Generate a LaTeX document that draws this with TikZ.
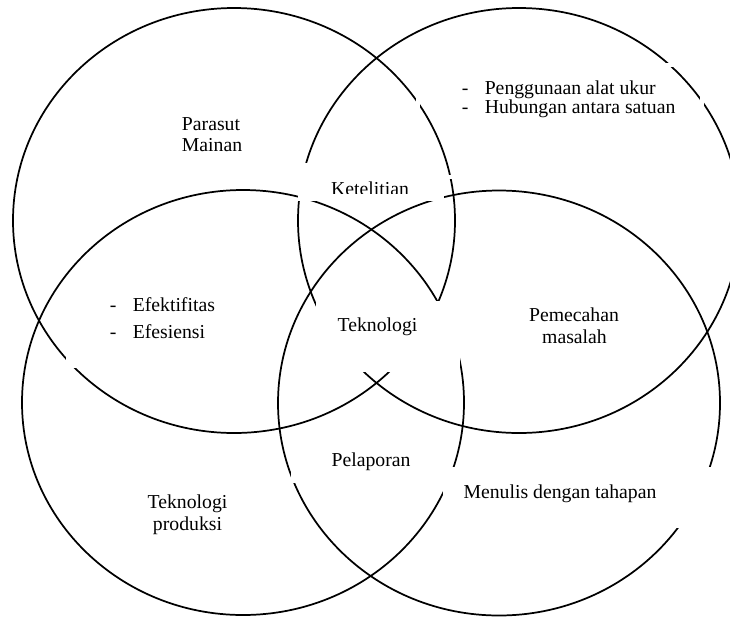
\documentclass[tikz,border=0pt]{standalone}
\usepackage{fontspec}
\setmainfont{Liberation Serif}
\begin{document}
\begin{tikzpicture}[x=0.75pt,y=-0.75pt,
  circ/.style={draw=black,line width=1.3pt},
  maskbox/.style={fill=white,draw=none},
  lbl/.style={inner sep=0pt,anchor=base,font=\fontsize{14.8}{17}\selectfont},
  itm/.style={inner sep=0pt,anchor=base west,font=\fontsize{14.8}{17}\selectfont}]
\useasboundingbox (0,0) rectangle (730,618);
\fill[white] (0,0) rectangle (730,618);
% four circles
\draw[circ] (234,220.5) ellipse [x radius=165.75pt, y radius=159.375pt];
\draw[circ] (519,220.5) ellipse [x radius=165.75pt, y radius=159.375pt];
\draw[circ] (243,402.5) ellipse [x radius=165.75pt, y radius=159.375pt];
\draw[circ] (499,403) ellipse [x radius=165.75pt, y radius=159.375pt];
% white text frames
\fill[maskbox] (298,163) rectangle (444,201);
\fill[maskbox] (316,301) rectangle (460,372);
\fill[maskbox] (66,282) rectangle (250,368);
\fill[maskbox] (291,440) rectangle (440,483);
\fill[maskbox] (443,467) rectangle (716,528);
\draw[white,line width=2.5pt] (418,65) rectangle (702,177);
% texts
\node[lbl] (parasut) at (211,130) {Parasut};
\node[lbl] (mainan) at (212,151) {Mainan};
\begin{scope}
\clip (298,163) rectangle (444,193.5);
\node[lbl] (ketelitian) at (370,195) {Ketelitian};
\end{scope}
\node[itm] (alat) at (461.5,94.5) {\makebox[17.25pt][l]{-}Penggunaan alat ukur};
\node[itm] (satuan) at (461.5,113) {\makebox[17.25pt][l]{-}Hubungan antara satuan};
\node[itm] (efektif) at (109.5,311) {\makebox[17.25pt][l]{-}Efektifitas};
\node[itm] (efesien) at (109.5,338) {\makebox[17.25pt][l]{-}Efesiensi};
\node[lbl] (teknologi) at (377.5,331) {Teknologi};
\node[lbl] (pemecahan) at (574,321) {Pemecahan};
\node[lbl] (masalah) at (574.5,343) {masalah};
\node[lbl] (pelaporan) at (371,466) {Pelaporan};
\node[lbl] (menulis) at (560,498.5) {Menulis dengan tahapan};
\node[lbl] (tekprod) at (187.5,508) {Teknologi};
\node[lbl] (produksi) at (187.5,530) {produksi};
\end{tikzpicture}
\end{document}
